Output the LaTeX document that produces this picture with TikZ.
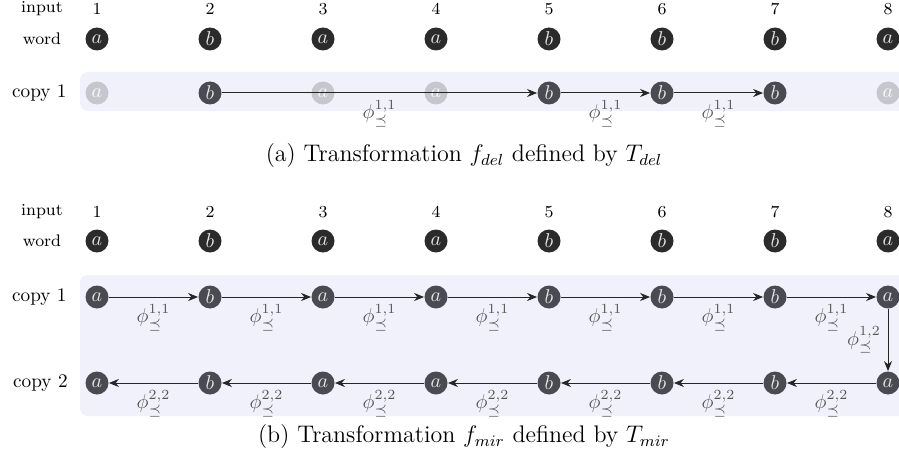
\documentclass[tikz,border=0pt]{standalone}
\usetikzlibrary{arrows.meta}
\definecolor{bgl}{HTML}{F1F1FB}
\definecolor{wordc}{HTML}{2B2B2B}
\definecolor{copyc}{HTML}{4A4A52}
\definecolor{fadec}{HTML}{C6C6CE}
\definecolor{labc}{HTML}{555555}
\tikzset{
 posnode/.style={circle, minimum size=11.5pt, inner sep=0pt, font=\fontsize{9.8}{11}\selectfont},
 wordnode/.style={posnode, fill=wordc, text=white!90!black},
 copynode/.style={posnode, fill=copyc, text=white!90!black},
 fadenode/.style={posnode, fill=fadec, text=white!92!fadec},
 rowlab/.style={font=\fontsize{8.4}{10}\selectfont, inner sep=0pt},
 copylab/.style={font=\fontsize{9.6}{11}\selectfont, anchor=east, inner sep=0pt},
 edge/.style={-{Stealth[length=5pt,width=4pt,inset=1.6pt]}, line width=0.5pt, draw=black!85},
 elab/.style={font=\fontsize{9.8}{11}\selectfont, text=labc},
 capt/.style={font=\fontsize{12}{14}\selectfont, inner sep=0pt}
}
\begin{document}
\begin{tikzpicture}[x=0.5pt,y=-0.5pt]
\useasboundingbox (0,0) rectangle (899,465);
\clip (0,0) rectangle (899,465);
\fill[white] (0,0) rectangle (899,465);
% ---------- panel (a) ----------
\fill[bgl, rounded corners=4pt] (80,72) rectangle (940,111);
\node[rowlab] (inA) at (42,9) {input};
\node[rowlab] (wdA) at (42,39) {word};
\foreach \i/\x in {1/97,2/210,3/323,4/436,5/549,6/662,7/775,8/888}{
  \node[rowlab] (nA\i) at (\x,9) {\i};
}
\foreach \i/\x/\l in {1/97/a,2/210/b,3/323/a,4/436/a,5/549/b,6/662/b,7/775/b,8/888/a}{
  \node[wordnode] (wA\i) at (\x,39) {$\l$};
}
\node[copylab] (cA1) at (67,93) {copy 1};
\node[fadenode] (pA1) at (97,93) {$a$};
\node[copynode] (pA2) at (210,93) {$b$};
\node[fadenode] (pA3) at (323,93) {$a$};
\node[fadenode] (pA4) at (436,93) {$a$};
\node[copynode] (pA5) at (549,93) {$b$};
\node[copynode] (pA6) at (662,93) {$b$};
\node[copynode] (pA7) at (775,93) {$b$};
\node[fadenode] (pA8) at (888,93) {$a$};
\draw[edge] (pA2) -- node[below, elab] {$\phi^{1,1}_{\preceq}$} (pA5);
\draw[edge] (pA5) -- node[below, elab] {$\phi^{1,1}_{\preceq}$} (pA6);
\draw[edge] (pA6) -- node[below, elab] {$\phi^{1,1}_{\preceq}$} (pA7);
\node[capt] (capA) at (464,156) {(a) Transformation $f_{del}$ defined by $T_{del}$};
% ---------- panel (b) ----------
\fill[bgl, rounded corners=4pt] (80,275) rectangle (940,416);
\node[rowlab] (inB) at (42,212) {input};
\node[rowlab] (wdB) at (42,241) {word};
\foreach \i/\x in {1/97,2/210,3/323,4/436,5/549,6/662,7/775,8/888}{
  \node[rowlab] (nB\i) at (\x,212) {\i};
}
\foreach \i/\x/\l in {1/97/a,2/210/b,3/323/a,4/436/a,5/549/b,6/662/b,7/775/b,8/888/a}{
  \node[wordnode] (wB\i) at (\x,241) {$\l$};
  \node[copynode] (p\i) at (\x,297) {$\l$};
  \node[copynode] (q\i) at (\x,383) {$\l$};
}
\node[copylab] (cB1) at (67,297) {copy 1};
\node[copylab] (cB2) at (68,383) {copy 2};
\foreach \i/\j in {1/2,2/3,3/4,4/5,5/6,6/7,7/8}{
  \draw[edge] (p\i) -- node[below, elab] {$\phi^{1,1}_{\preceq}$} (p\j);
  \draw[edge] (q\j) -- node[below, elab] {$\phi^{2,2}_{\preceq}$} (q\i);
}
\draw[edge] (p8) -- node[left, elab] {$\phi^{1,2}_{\preceq}$} (q8);
\node[capt] (capB) at (464,437) {(b) Transformation $f_{mir}$ defined by $T_{mir}$};
\end{tikzpicture}
\end{document}
